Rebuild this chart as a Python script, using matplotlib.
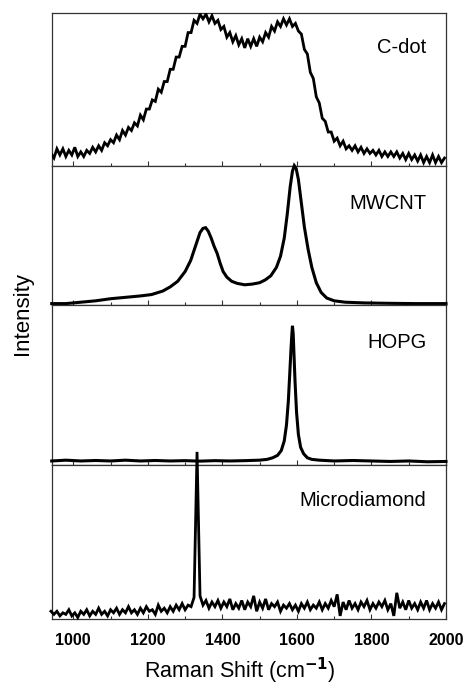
import numpy as np
import matplotlib as mpl; mpl.use("Agg")
import matplotlib.pyplot as plt
from matplotlib.ticker import MultipleLocator

mpl.rcParams.update({
    "font.family": ["Liberation Sans", "DejaVu Sans"],
    "mathtext.default": "regular",
})

# Spectra (normalised to each panel height)
# ------------------------------------------------------------------------------
grid_x = np.arange(940, 2001, 8)  # shared sampling of the noisy spectra

cdot_y = [
    0.08, 0.05, 0.11, 0.07, 0.11, 0.06, 0.10, 0.07, 0.12, 0.06,
    0.09, 0.06, 0.10, 0.08, 0.12, 0.09, 0.13, 0.10, 0.15, 0.13,
    0.17, 0.15, 0.20, 0.17, 0.23, 0.20, 0.25, 0.23, 0.28, 0.26,
    0.33, 0.30, 0.37, 0.37, 0.43, 0.42, 0.50, 0.48, 0.55, 0.55,
    0.63, 0.63, 0.71, 0.71, 0.78, 0.78, 0.87, 0.87, 0.95, 0.93,
    0.99, 0.96, 0.99, 0.94, 0.98, 0.93, 0.95, 0.89, 0.91, 0.84,
    0.87, 0.81, 0.85, 0.79, 0.83, 0.77, 0.83, 0.78, 0.83, 0.78,
    0.84, 0.81, 0.87, 0.84, 0.91, 0.88, 0.94, 0.91, 0.96, 0.92,
    0.96, 0.91, 0.93, 0.88, 0.86, 0.76, 0.73, 0.61, 0.57, 0.45,
    0.41, 0.31, 0.29, 0.22, 0.22, 0.16, 0.18, 0.13, 0.16, 0.11,
    0.13, 0.10, 0.13, 0.09, 0.12, 0.08, 0.11, 0.08, 0.10, 0.07,
    0.10, 0.06, 0.09, 0.06, 0.09, 0.06, 0.09, 0.05, 0.08, 0.04,
    0.08, 0.04, 0.07, 0.03, 0.07, 0.02, 0.06, 0.02, 0.07, 0.02,
    0.06, 0.02, 0.05,
]

diamond_y = [
    0.05, 0.03, 0.05, 0.02, 0.04, 0.03, 0.06, 0.02, 0.04, 0.01,
    0.05, 0.03, 0.06, 0.02, 0.05, 0.03, 0.07, 0.03, 0.05, 0.02,
    0.06, 0.04, 0.07, 0.03, 0.06, 0.04, 0.08, 0.04, 0.06, 0.03,
    0.07, 0.04, 0.08, 0.05, 0.06, 0.03, 0.09, 0.05, 0.07, 0.04,
    0.08, 0.05, 0.09, 0.06, 0.10, 0.06, 0.09, 0.08, 0.14, 1.085,
    0.15, 0.09, 0.12, 0.07, 0.11, 0.08, 0.12, 0.07, 0.11, 0.08,
    0.13, 0.06, 0.10, 0.07, 0.12, 0.06, 0.11, 0.08, 0.15, 0.05,
    0.11, 0.07, 0.13, 0.06, 0.10, 0.08, 0.11, 0.05, 0.09, 0.07,
    0.10, 0.06, 0.09, 0.05, 0.10, 0.07, 0.11, 0.06, 0.09, 0.07,
    0.11, 0.06, 0.10, 0.07, 0.12, 0.08, 0.16, 0.02, 0.11, 0.06,
    0.12, 0.07, 0.10, 0.06, 0.11, 0.08, 0.12, 0.06, 0.10, 0.07,
    0.11, 0.08, 0.12, 0.06, 0.10, 0.02, 0.17, 0.07, 0.11, 0.06,
    0.12, 0.07, 0.10, 0.06, 0.11, 0.07, 0.12, 0.06, 0.10, 0.07,
    0.11, 0.06, 0.10,
]

mwcnt_x = [942, 980, 1020, 1060, 1100, 1140, 1180, 1210, 1240, 1260,
           1280, 1300, 1315, 1330, 1340, 1348, 1355, 1362, 1370, 1378,
           1386, 1394, 1402, 1412, 1425, 1440, 1460, 1480, 1500, 1515,
           1530, 1545, 1556, 1566, 1574, 1582, 1588, 1593, 1598, 1604,
           1612, 1620, 1630, 1640, 1652, 1665, 1680, 1700, 1730, 1780,
           1850, 1920, 2000]
mwcnt_y = [0.01, 0.01, 0.02, 0.03, 0.045, 0.055, 0.065, 0.075, 0.10, 0.13,
           0.17, 0.24, 0.32, 0.44, 0.52, 0.55, 0.555, 0.53, 0.48, 0.42,
           0.37, 0.30, 0.24, 0.20, 0.17, 0.155, 0.145, 0.15, 0.16, 0.18,
           0.21, 0.27, 0.35, 0.48, 0.65, 0.85, 0.96, 1.00, 0.98, 0.90,
           0.73, 0.56, 0.40, 0.27, 0.16, 0.09, 0.05, 0.03, 0.02, 0.015,
           0.012, 0.01, 0.01]

hopg_x = [942, 980, 1020, 1060, 1100, 1140, 1180, 1220, 1260, 1300,
          1340, 1380, 1420, 1460, 1500, 1520, 1535, 1548, 1558, 1566,
          1572, 1577, 1581, 1584, 1586, 1588, 1590, 1592, 1595, 1599,
          1604, 1610, 1618, 1628, 1640, 1660, 1700, 1750, 1800, 1850,
          1900, 1950, 2000]
hopg_y = [0.025, 0.03, 0.025, 0.028, 0.025, 0.03, 0.025, 0.028, 0.025, 0.027,
          0.024, 0.027, 0.025, 0.027, 0.03, 0.035, 0.045, 0.06, 0.09, 0.15,
          0.25, 0.40, 0.58, 0.72, 0.80, 0.87, 0.82, 0.70, 0.52, 0.33,
          0.19, 0.11, 0.07, 0.045, 0.035, 0.03, 0.025, 0.028, 0.025, 0.022,
          0.025, 0.02, 0.022]

labels = ["C-dot", "MWCNT", "HOPG", "Microdiamond"]
xtick_values = [1000, 1200, 1400, 1600, 1800, 2000]

# Panel boxes in figure fractions (left, bottom, width, height)
# ------------------------------------------------------------------------------
boxes = [
    (0.1107, 0.7585, 0.8443, 0.2230),
    (0.1107, 0.5554, 0.8443, 0.2031),
    (0.1107, 0.3222, 0.8443, 0.2332),
    (0.1107, 0.0977, 0.8443, 0.2245),
]
series = [
    (grid_x, cdot_y, 2.0, True),
    (mwcnt_x, mwcnt_y, 2.2, False),
    (hopg_x, hopg_y, 2.2, False),
    (grid_x, diamond_y, 2.0, False),
]
label_y = [0.77, 0.73, 0.765, 0.77]

def main():
    fig = plt.figure(figsize=(4.67, 6.86), dpi=100)
    for i, (box, (x, y, lw, clip)) in enumerate(zip(boxes, series)):
        ax = fig.add_axes(box)
        ax.plot(x, y, color="black", lw=lw, clip_on=clip, zorder=5,
                solid_joinstyle="miter")
        ax.set_xlim(942, 2000)
        ax.set_ylim(0, 1)
        ax.set_yticks([])
        ax.xaxis.set_major_locator(MultipleLocator(200))
        ax.xaxis.set_minor_locator(MultipleLocator(100))
        ax.tick_params(axis="x", which="both", direction="in", top=False,
                       width=0.8, color="#333333")
        ax.tick_params(axis="x", which="major", length=3.5, pad=10)
        ax.tick_params(axis="x", which="minor", length=2.5)
        for s in ax.spines.values():
            s.set_linewidth(0.9)
            s.set_color("#333333")
        ax.text(0.95, label_y[i], labels[i], transform=ax.transAxes,
                ha="right", va="center", fontsize=14.5)
        if i < 3:
            ax.set_xticklabels([])
        else:
            ax.set_xticks(xtick_values)
            ax.set_xticklabels([str(v) for v in xtick_values],
                               fontsize=11.5, fontweight="bold")

    fig.text(240 / 467, 1 - 671 / 686, "Raman Shift (cm$^{\\mathbf{-1}}$)",
             ha="center", va="center", fontsize=15.5)
    fig.text(22.5 / 467, 1 - 313 / 686, "Intensity", rotation=90,
             ha="center", va="center", fontsize=16)

    fig.savefig("out.png", dpi=100)

if __name__ == "__main__":
    main()
